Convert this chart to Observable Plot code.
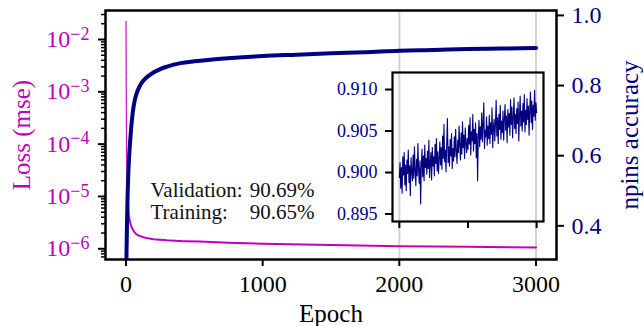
<!DOCTYPE html>
<html><head><meta charset="utf-8">
<script src="https://cdn.jsdelivr.net/npm/d3@7"></script>
<script src="https://cdn.jsdelivr.net/npm/@observablehq/plot@0.6"></script>
<style>
html,body{margin:0;padding:0;background:#fff;}
#chart{position:relative;width:644px;height:326px;overflow:hidden;}
#chart svg{position:absolute;left:0;top:0;}
#chart svg, #chart svg text{font-family:'Liberation Serif','Times New Roman',serif !important;}
</style></head><body><div id="chart"></div>
<script>
// ---- data ----
const lossEpochs = [0, 1, 2, 3, 5, 8, 12, 16, 20, 30, 40, 55, 75, 100, 150, 200, 300, 420, 540, 750, 1000, 1500, 2000, 2500, 3000];
const lossValues = [0.022, 0.004, 0.0008, 0.0002, 0.00006, 0.00002, 0.00001, 6e-6, 4.5e-6, 3.2e-6, 2.6e-6, 2.2e-6, 1.9e-6, 1.75e-6, 1.6e-6, 1.52e-6, 1.45e-6, 1.4e-6, 1.37e-6, 1.3e-6, 1.25e-6, 1.18e-6, 1.12e-6, 1.09e-6, 1.06e-6];
const accEpochs = [0, 4, 8, 12, 18, 25, 35, 50, 65, 85, 110, 150, 200, 250, 300, 400, 500, 600, 800, 1000, 1250, 1500, 1750, 2000, 2250, 2500, 2750, 3000];
const accValues = [0.20, 0.33, 0.42, 0.49, 0.56, 0.61, 0.665, 0.725, 0.76, 0.785, 0.805, 0.823, 0.837, 0.847, 0.854, 0.864, 0.869, 0.873, 0.879, 0.884, 0.888, 0.892, 0.895, 0.8995, 0.9015, 0.904, 0.9055, 0.907];
const insetStart = 2000, insetStep = 5;
const insetValues = [
0.8994,0.9012,0.8981,0.9006,0.8975,0.9019,0.8997,0.9024,0.8985,0.9009,
0.8978,0.9015,0.8999,0.9027,0.8988,0.9008,0.8972,0.9018,0.9001,0.8990,
0.9021,0.8993,0.9031,0.9002,0.8984,0.9016,0.8996,0.9035,0.9004,0.8987,
0.9014,0.8962,0.9009,0.9028,0.8995,0.9020,0.8990,0.9033,0.9006,0.9017,
0.8998,0.9026,0.9005,0.9039,0.8994,0.9012,0.9024,0.8991,0.9030,0.9008,
0.9019,0.8996,0.9034,0.9011,0.9041,0.9002,0.9025,0.8999,0.9015,0.9037,
0.9009,0.9030,0.9004,0.9044,0.9017,0.9058,0.9013,0.9027,0.9001,0.9036,
0.9065,0.9012,0.9031,0.9008,0.9040,0.9020,0.9047,0.9005,0.9029,0.9014,
0.9043,0.9019,0.9052,0.9026,0.9011,0.9039,0.9024,0.9056,0.9033,0.9015,
0.9048,0.9022,0.9061,0.9030,0.9045,0.9017,0.9054,0.9036,0.9024,0.9041,
0.9028,0.9057,0.9034,0.9066,0.9021,0.9049,0.9038,0.9070,0.9026,0.9052,
0.9035,0.9060,0.9018,0.9047,0.8990,0.9044,0.9063,0.9031,0.9055,0.9040,
0.9072,0.9037,0.9058,0.9084,0.9029,0.9051,0.9043,0.9067,0.9033,0.9056,
0.9041,0.9069,0.9035,0.9060,0.9046,0.9078,0.9030,0.9054,0.9064,0.9038,
0.9059,0.9087,0.9044,0.9066,0.9035,0.9070,0.9052,0.9081,0.9040,0.9062,
0.9048,0.9074,0.9039,0.9065,0.9082,0.9051,0.9068,0.9036,0.9076,0.9055,
0.9071,0.9045,0.9088,0.9058,0.9079,0.9042,0.9066,0.9090,0.9053,0.9070,
0.9047,0.9077,0.9059,0.9085,0.9038,0.9069,0.9092,0.9056,0.9074,0.9050,
0.9083,0.9061,0.9094,0.9049,0.9075,0.9058,0.9089,0.9064,0.9080,0.9045,
0.9077,0.9097,0.9060,0.9086,0.9052,0.9081,0.9068,0.9099,0.9063,0.9084,
0.9072];
const xTicks = [0, 1000, 2000, 3000];
const xGrid = [2000, 3000];
const lossTicks = [1e-2, 1e-3, 1e-4, 1e-5, 1e-6];
const accTicks = [0.4, 0.6, 0.8, 1.0];
const insetYTicks = [0.895, 0.900, 0.905, 0.910];
const insetXTicks = [2000, 2500, 3000];
const annotationLabels = ["Validation:", "Training:"];
const annotationValues = ["90.69%", "90.65%"];
const xLabel = "Epoch", lossLabel = "Loss (mse)", accLabel = "npins accuracy";

// ---- styling ----
const MAGENTA = "#c000c0", NAVY = "#000080", GRID = "#d3d3d3";
const FONT = "Liberation Serif";
const W = 644, H = 326;
const main = {marginLeft: 105, marginRight: 88, marginTop: 10, marginBottom: 67};
const xDomain = [-150, 3150];
const svgStyle = "font-family:'Liberation Serif',serif;background:transparent;overflow:visible;";

const lossData = lossEpochs.map((e, i) => ({epoch: e, loss: lossValues[i]}));
const accData = accEpochs.map((e, i) => ({epoch: e, acc: accValues[i]}));
const insetData = insetValues.map((v, i) => ({epoch: insetStart + i * insetStep, acc: v}));

const lossMinor = [];
for (let k = -7; k <= -2; k++) for (let m = 2; m <= 9; m++) {
  const v = m * Math.pow(10, k);
  if (v >= 6.3e-7 && v <= 0.035) lossMinor.push(v);
}
const expFmt = d => "10^\u2212" + Math.abs(Math.round(Math.log10(d)));

const chart = document.getElementById("chart");
// frame centre: x = 330.5, y = 134.5
const label = (t, o) => Plot.text([t], {text: d => d, frameAnchor: "middle", lineAnchor: "middle", textAnchor: "middle", fontSize: 25, fontFamily: FONT, ...o});

// SVG 1: loss (left log axis), gridlines, x axis
const svg1 = Plot.plot({
  width: W, height: H, ...main,
  style: svgStyle,
  x: {domain: xDomain},
  y: {type: "log", domain: [Math.pow(10, -6.205), Math.pow(10, -1.446)]},
  marks: [
    Plot.ruleX(xGrid, {stroke: GRID, strokeWidth: 2}),
    Plot.line(lossData.filter(d => d.epoch <= 12), {x: "epoch", y: "loss", stroke: MAGENTA, strokeWidth: 1.3, strokeDasharray: "1,1.2"}),
    Plot.line(lossData.filter(d => d.epoch >= 12), {x: "epoch", y: "loss", stroke: MAGENTA, strokeWidth: 2}),
    Plot.axisY({ticks: lossTicks, tickFormat: expFmt, tickSize: 7, tickPadding: 9, strokeWidth: 2, stroke: "black", fill: MAGENTA, fontSize: 24, fontFamily: FONT, label: null}),
    Plot.axisY({ticks: lossMinor, tickFormat: () => "", tickSize: 4, strokeWidth: 1.5, stroke: "black", label: null}),
    Plot.axisX({ticks: xTicks, tickFormat: d => String(d), tickSize: 7, tickPadding: 8, strokeWidth: 2, stroke: "black", fill: "black", fontSize: 24, fontFamily: FONT, label: null}),
    label(xLabel, {dy: 178.5, fill: "black"}),
    ...annotationLabels.map((t, i) => Plot.text([t], {text: d => d, frameAnchor: "top-left", dx: 45, dy: 186 + i * 22, lineAnchor: "bottom", textAnchor: "start", fontSize: 21, fontFamily: FONT, fill: "#111"})),
    ...annotationValues.map((t, i) => Plot.text([t], {text: d => d, frameAnchor: "top-left", dx: 209, dy: 186 + i * 22, lineAnchor: "bottom", textAnchor: "end", fontSize: 21, fontFamily: FONT, fill: "#111"}))
  ]
});
chart.appendChild(svg1);

// superscript exponents
d3.select(svg1).selectAll("text").each(function () {
  const m = /^10\^(.+)$/.exec(this.textContent);
  if (!m) return;
  const s = d3.select(this);
  s.text(null);
  s.append("tspan").text("10");
  s.append("tspan").attr("dy", "-0.42em").attr("font-size", "0.75em").text(m[1]);
});

// SVG 2: accuracy (right linear axis), both y-axis titles, frame
const svg2 = Plot.plot({
  width: W, height: H, ...main,
  style: svgStyle,
  x: {domain: xDomain, axis: null},
  y: {domain: [0.304, 1.014]},
  marks: [
    Plot.line(accData, {x: "epoch", y: "acc", stroke: NAVY, strokeWidth: 4, clip: true, curve: "monotone-x"}),
    Plot.axisY({anchor: "right", ticks: accTicks, tickFormat: d3.format(".1f"), tickSize: 7, tickPadding: 8, strokeWidth: 2, stroke: "black", fill: NAVY, fontSize: 24, fontFamily: FONT, label: null}),
    label(lossLabel, {dx: -309, rotate: -90, fill: MAGENTA}),
    label(accLabel, {dx: 298.5, rotate: -90, fill: NAVY}),
    Plot.frame({stroke: "black", strokeWidth: 2.5})
  ]
});
chart.appendChild(svg2);

// SVG 3: inset
const svg3 = Plot.plot({
  width: W, height: H,
  marginLeft: 392, marginRight: 101, marginTop: 72, marginBottom: 105,
  style: svgStyle,
  x: {domain: [1950, 3050]},
  y: {domain: [0.8941, 0.91205]},
  marks: [
    Plot.line(insetData, {x: "epoch", y: "acc", stroke: NAVY, strokeWidth: 1.1}),
    Plot.axisY({ticks: insetYTicks, tickFormat: d3.format(".3f"), tickSize: 7, tickPadding: 8, strokeWidth: 2, stroke: "black", fill: NAVY, fontSize: 18, fontFamily: FONT, label: null}),
    Plot.axisX({ticks: insetXTicks, tickFormat: () => "", tickSize: 7, strokeWidth: 2, stroke: "black", label: null}),
    Plot.frame({stroke: "black", strokeWidth: 2.2})
  ]
});
chart.appendChild(svg3);
</script></body></html>
